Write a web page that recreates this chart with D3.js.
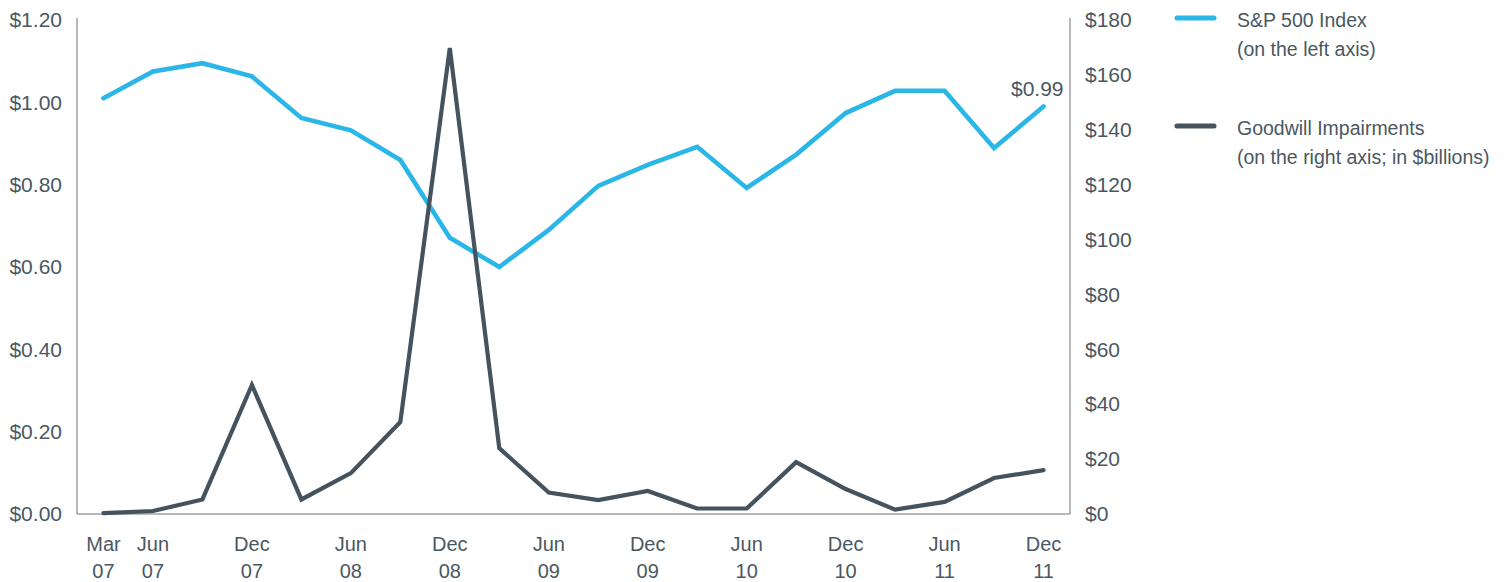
<!DOCTYPE html>
<html><head><meta charset="utf-8">
<script src="https://cdn.jsdelivr.net/npm/d3@7"></script>
<style>
html,body{margin:0;padding:0;background:#fff;}
text{font-family:"Liberation Sans","Helvetica",Arial,sans-serif;fill:#4a5862;}
</style></head>
<body><svg id="c" width="1507" height="582"></svg>
<script>
const quarters = ["Mar 07","Jun 07","Sep 07","Dec 07","Mar 08","Jun 08","Sep 08","Dec 08","Mar 09","Jun 09","Sep 09","Dec 09","Mar 10","Jun 10","Sep 10","Dec 10","Mar 11","Jun 11","Sep 11","Dec 11"];
const labelQuarters = ["Mar 07","Jun 07","Dec 07","Jun 08","Dec 08","Jun 09","Dec 09","Jun 10","Dec 10","Jun 11","Dec 11"];
const sp500 = [1.01,1.075,1.095,1.063,0.962,0.932,0.86,0.671,0.60,0.69,0.797,0.848,0.892,0.792,0.873,0.974,1.028,1.028,0.889,0.99];
const goodwill = [0.3,1.1,5.3,47.0,5.3,14.9,33.5,169.8,24.0,7.8,5.1,8.4,2.0,2.0,18.9,9.1,1.6,4.4,13.1,16.0];
const leftTicks = [0,0.2,0.4,0.6,0.8,1.0,1.2];
const rightTicks = [0,20,40,60,80,100,120,140,160,180];
const legendItems = [
  {lines:["S&P 500 Index","(on the left axis)"], color:"#2bb6e8"},
  {lines:["Goodwill Impairments","(on the right axis; in $billions)"], color:"#44535e"}
];

const svg = d3.select("#c");
const L = 77, R = 1070, T = 20, B = 514;
const x = d3.scalePoint().domain(quarters).range([L, R]).padding(0.535);
const yL = d3.scaleLinear().domain([0,1.2]).range([B, T]);
const yR = d3.scaleLinear().domain([0,180]).range([B, T]);
const axisColor = "#6b747c";

// frame lines
svg.append("line").attr("x1",L).attr("x2",L).attr("y1",T-2).attr("y2",B).attr("stroke",axisColor).attr("stroke-width",1);
svg.append("line").attr("x1",R).attr("x2",R).attr("y1",T-2).attr("y2",B).attr("stroke",axisColor).attr("stroke-width",1);
svg.append("line").attr("x1",L).attr("x2",R).attr("y1",B).attr("y2",B).attr("stroke",axisColor).attr("stroke-width",1);

// left axis
const gl = svg.append("g").attr("transform",`translate(${L},0)`)
  .call(d3.axisLeft(yL).tickValues(leftTicks).tickSize(0).tickPadding(15).tickFormat(d=>"$"+d.toFixed(2)));
gl.select(".domain").remove();
gl.selectAll("text").style("font-size","21px").style("fill","#4a5862");

// right axis
const gr = svg.append("g").attr("transform",`translate(${R},0)`)
  .call(d3.axisRight(yR).tickValues(rightTicks).tickSize(0).tickPadding(15).tickFormat(d=>"$"+d));
gr.select(".domain").remove();
gr.selectAll("text").style("font-size","21px").style("fill","#4a5862");

// x labels
const gx = svg.append("g");
labelQuarters.forEach(q=>{
  const parts = q.split(" ");
  const t = gx.append("text").attr("x",x(q)).attr("text-anchor","middle").style("font-size","20px");
  t.append("tspan").attr("x",x(q)).attr("y",551).text(parts[0]);
  t.append("tspan").attr("x",x(q)).attr("y",578).text(parts[1]);
});

// lines
const lineL = d3.line().x((d,i)=>x(quarters[i])).y(d=>yL(d));
const lineR = d3.line().x((d,i)=>x(quarters[i])).y(d=>yR(d));
svg.append("path").datum(sp500).attr("d",lineL).attr("fill","none")
  .attr("stroke",legendItems[0].color).attr("stroke-width",4.6).attr("stroke-linejoin","miter").attr("stroke-linecap","round");
svg.append("path").datum(goodwill).attr("d",lineR).attr("fill","none")
  .attr("stroke",legendItems[1].color).attr("stroke-width",4.2).attr("stroke-linejoin","miter").attr("stroke-linecap","round");

// end label
const last = quarters.length-1;
svg.append("text").attr("x",x(quarters[last])+20).attr("y",yL(sp500[last])-10)
  .attr("text-anchor","end").style("font-size","21px").text("$"+sp500[last].toFixed(2));

// legend
const legY = [18,126];
legendItems.forEach((it,i)=>{
  svg.append("line").attr("x1",1177).attr("x2",1214).attr("y1",legY[i]).attr("y2",legY[i])
    .attr("stroke",it.color).attr("stroke-width",5).attr("stroke-linecap","round");
  it.lines.forEach((ln,j)=>{
    svg.append("text").attr("x",1237).attr("y",legY[i]+9+j*29).style("font-size","19.5px").text(ln);
  });
});
</script></body></html>
